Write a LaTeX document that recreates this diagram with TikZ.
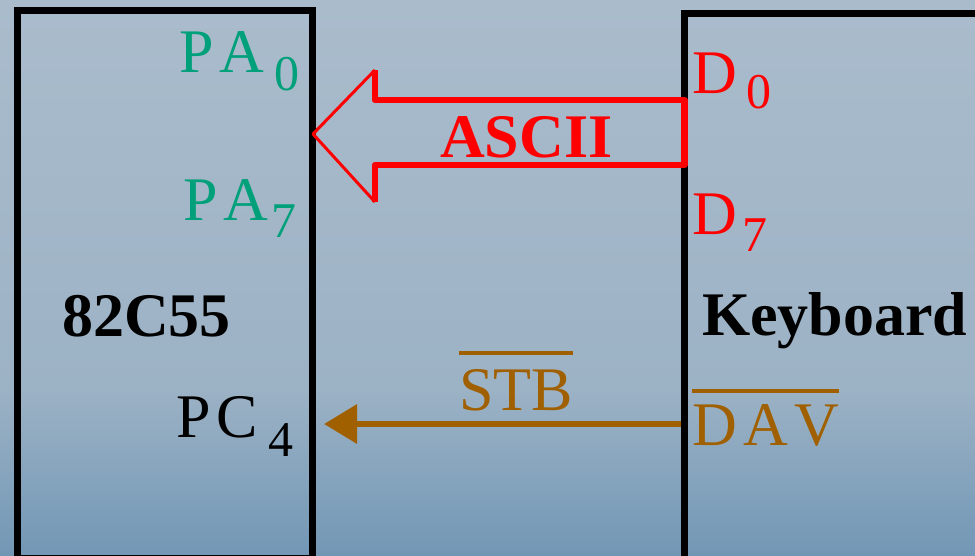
\documentclass[tikz,border=0pt]{standalone}
\usepackage{fontspec}
\setmainfont{Liberation Serif}[Kerning=Off]
\newfontfamily\spaced{Liberation Serif}[Kerning=Off, LetterSpace=10]
\usetikzlibrary{arrows.meta, calc}

\definecolor{pagreen}{RGB}{0,160,122}
\definecolor{dred}{RGB}{255,0,0}
\definecolor{strbrown}{RGB}{160,96,0}
\definecolor{bgtop}{RGB}{170,188,204}
\definecolor{bgmid}{RGB}{156,178,197}
\definecolor{bgbot}{RGB}{114,151,181}
\pgfdeclareverticalshading{panel}{100bp}{color(0bp)=(bgbot); color(25bp)=(bgbot); color(40bp)=(bgmid); color(75bp)=(bgtop); color(100bp)=(bgtop)}

% pin name with a lowered index, active-low signal with a bar
\newcommand{\pin}[3][17pt]{{\spaced #2}\kern10pt\raisebox{-#1}{\fontsize{50}{50}\selectfont #3}}
\newcommand{\ovl}[2][14pt]{\vbox{\hrule height 4pt\kern#1\hbox{#2}}}

\begin{document}
\begin{tikzpicture}[x=1pt, y=-1pt]
    \tikzstyle{chip} = [rectangle, draw=black, line width=7pt, outer sep=0pt, inner sep=0pt]
    \tikzstyle{sig} = [inner sep=0pt, anchor=base west, font=\fontsize{62}{70}\selectfont]
    \tikzstyle{signame} = [sig, font=\fontsize{62}{70}\selectfont\bfseries]
    \tikzstyle{bus} = [draw=dred, line join=round]
    \tikzstyle{arrow} = [strbrown, line width=6.5pt, -{Triangle[length=33pt, width=38pt]}]

    \useasboundingbox (0,0) rectangle (975,555);
    \clip (0,0) rectangle (975,555);
    \fill[shading=panel] (0,0) rectangle (975,555);

    \node (ppi) [chip, minimum width=294.5pt, minimum height=547.5pt] at (164.75,284.25) {};
    \node (kbd) [chip, minimum width=415.5pt, minimum height=586.5pt] at (892.25,306.75) {};

    % 8255 side
    \node (pa0) [sig, pagreen] at (179,72) {\pin[18pt]{PA}{0}};
    \node (pa7) [sig, pagreen] at (183,220) {\pin{PA}{\kern-7pt 7}};
    \node (chipname) [signame] at (62,336) {82C55};
    \node (pc4) [sig] at (176,437) {\pin[19pt]{PC}{4}};

    % keyboard side
    \node (d0) [sig, dred] at (692,93) {\pin[15pt]{D}{0}};
    \node (d7) [sig, dred] at (692,234) {\pin{D}{\kern-4pt 7}};
    \node (kbdname) [signame] at (702,335) {Keyboard};
    \node (dav) [sig, strbrown] at (692,445) {\ovl[11pt]{\spaced DAV}};

    % hollow data arrow
    \coordinate (upper) at (375,100);
    \coordinate (lower) at (375,165);
    \coordinate (tiprow) at (0,134);
    \draw [bus, line width=6.5pt] (375,70) -- (upper) -- (kbd.west |- upper) -- (kbd.west |- lower) -- (lower) -- (375,202);
    \draw [bus, line width=3pt] (375,70) -- ($(ppi.east |- tiprow)+(1,0)$) -- (375,202);
    \node (ascii) [signame, dred] at (440,157) {ASCII};

    % strobe line
    \coordinate (strobe) at (0,424);
    \draw [arrow, shorten <=3.5pt, shorten >=12pt] (kbd.west |- strobe) -- (ppi.east |- strobe);
    \node (stb) [sig, strbrown] at (459,410) {\ovl{STB}};
\end{tikzpicture}
\end{document}
